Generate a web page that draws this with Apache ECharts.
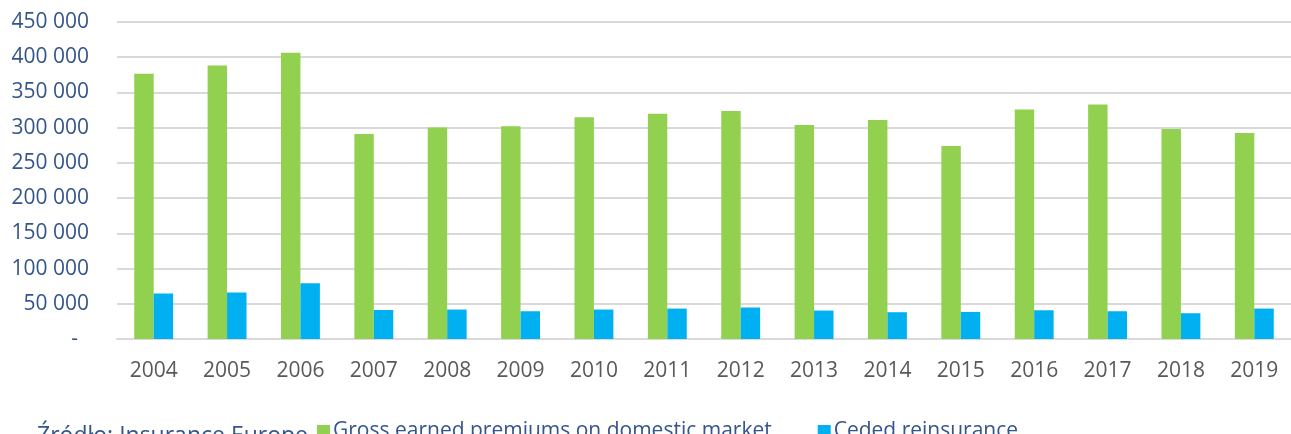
<!DOCTYPE html>
<html>
<head>
<meta charset="utf-8">
<script src="https://cdn.jsdelivr.net/npm/echarts@6/dist/echarts.min.js"></script>
<style>
  html, body { margin: 0; padding: 0; background: #fff; }
  #chart { width: 1291px; height: 434px; }
</style>
</head>
<body>
<div id="chart"></div>
<script>
// lata
var years = ['2004', '2005', '2006', '2007', '2008', '2009', '2010', '2011',
  '2012', '2013', '2014', '2015', '2016', '2017', '2018', '2019'];

// Gross earned premiums on domestic market
var grossPremiums = [376500, 388300, 406300, 291100, 300100, 302100, 314900, 319600,
  323800, 303900, 311000, 274100, 325700, 332800, 298200, 292600];

// Ceded reinsurance
var cededReinsurance = [64600, 66000, 79200, 41200, 41800, 39400, 41800, 43200,
  44700, 40400, 38000, 38400, 40800, 39400, 36600, 43200];

var seriesNames = ['Gross earned premiums on domestic market', 'Ceded reinsurance'];
var sourceText = 'Źródło: Insurance Europe';

var font = 'Open Sans';
var blueText = '#34558a';

var chart = echarts.init(document.getElementById('chart'));

// formatowanie liczb: 450 000, zero jako "-"
function fmt(v) {
  if (v === 0) return '-  ';
  return String(v).replace(/\B(?=(\d{3})+(?!\d))/g, ' ');
}

var option = {
  animation: false,
  grid: {
    left: 117,
    right: -14,
    top: 22,
    bottom: 95
  },
  legend: {
    data: seriesNames,
    left: 312,
    top: 416,
    itemWidth: 13,
    itemHeight: 13,
    itemGap: 46,
    icon: 'rect',
    textStyle: { fontFamily: font, fontSize: 21, color: blueText, padding: [0, 0, 0, -2] }
  },
  graphic: [{
    type: 'text',
    left: 37,
    top: 425,
    z: -1,
    style: {
      text: sourceText,
      fontFamily: font,
      fontSize: 23,
      fill: blueText
    }
  }],
  xAxis: {
    type: 'category',
    data: years,
    axisLine: { lineStyle: { color: '#d9d9d9', width: 2 } },
    axisTick: { show: false },
    axisLabel: { fontFamily: font, fontSize: 21, color: '#595959', margin: 22 }
  },
  yAxis: {
    type: 'value',
    min: 0,
    max: 450000,
    interval: 50000,
    axisLine: { show: false },
    axisTick: { show: false },
    splitLine: { lineStyle: { color: '#d9d9d9', width: 2 } },
    axisLabel: {
      fontFamily: font,
      fontSize: 21,
      color: blueText,
      margin: 28,
      formatter: fmt
    }
  },
  series: [{
    name: seriesNames[0],
    type: 'bar',
    data: grossPremiums,
    barGap: '0%',
    barCategoryGap: '47%',
    itemStyle: { color: '#92d050' }
  }, {
    name: seriesNames[1],
    type: 'bar',
    data: cededReinsurance,
    itemStyle: { color: '#00b0f0' }
  }]
};

chart.setOption(option);
</script>
</body>
</html>
